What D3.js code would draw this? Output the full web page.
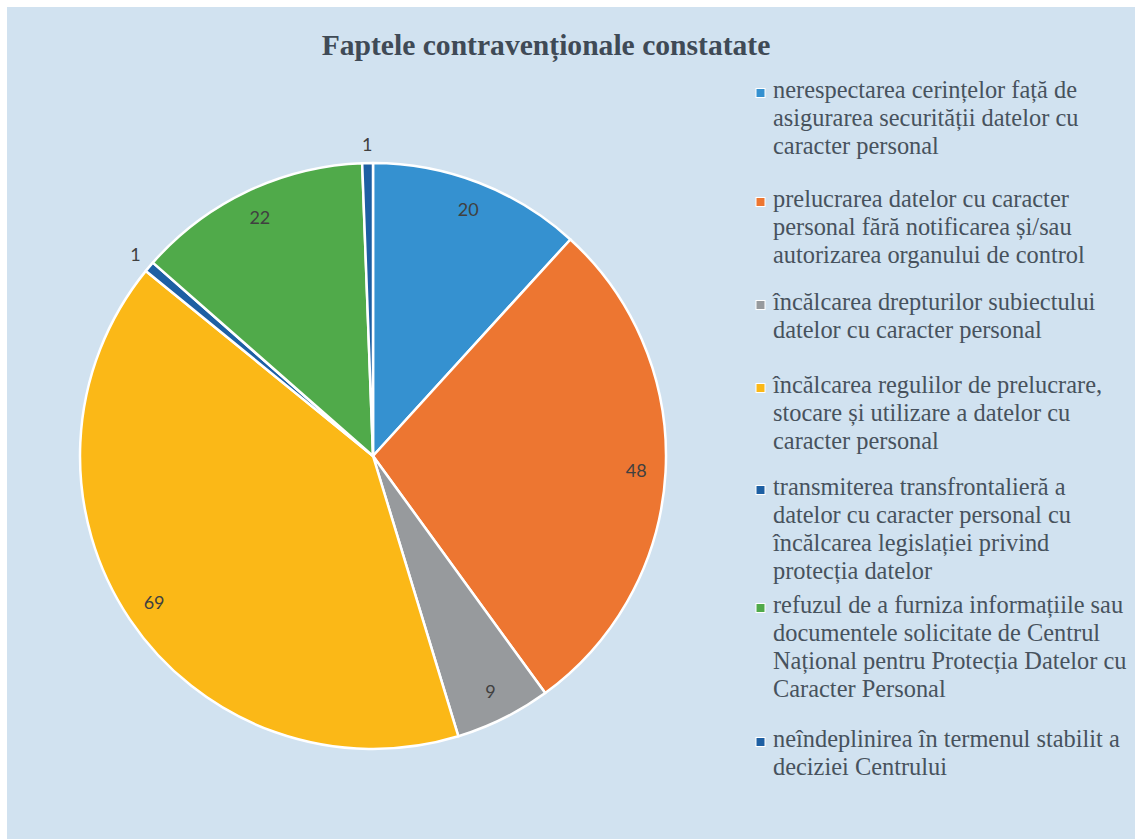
<!DOCTYPE html>
<html>
<head>
<meta charset="utf-8">
<script src="https://cdn.jsdelivr.net/npm/d3@7"></script>
<style>
  html, body { margin: 0; padding: 0; background: #ffffff; }
  svg { display: block; }
</style>
</head>
<body>
<svg id="chart" width="1135" height="839"></svg>
<script>
const title = "Faptele contravenționale constatate";
const categories = [
  "nerespectarea cerințelor față de|asigurarea securității datelor cu|caracter personal",
  "prelucrarea datelor cu caracter|personal fără notificarea și/sau|autorizarea organului de control",
  "încălcarea drepturilor subiectului|datelor cu caracter personal",
  "încălcarea regulilor de prelucrare,|stocare și utilizare a datelor cu|caracter personal",
  "transmiterea transfrontalieră a|datelor cu caracter personal cu|încălcarea legislației privind|protecția datelor",
  "refuzul de a furniza informațiile sau|documentele solicitate de Centrul|Național pentru Protecția Datelor cu|Caracter Personal",
  "neîndeplinirea în termenul stabilit a|deciziei Centrului"
];
const values = [20, 48, 9, 69, 1, 22, 1];
const colors = ["#3591d0", "#ed7631", "#979a9d", "#fbb817", "#1d5fa3", "#50aa4a", "#1d5fa3"];

// layout
const W = 1135, H = 839;
const cx = 373, cy = 456, R = 293;
const legendX = 773, legendMarkerX = 756;
const legendItemTops = [93, 202, 305, 388, 490, 608, 742];
const legendLineH = 28;

const svg = d3.select("#chart");
svg.append("rect").attr("x", 7).attr("y", 7).attr("width", W - 7).attr("height", H - 7)
  .attr("fill", "#d1e2f0");

svg.append("text").attr("x", 546).attr("y", 55).attr("text-anchor", "middle")
  .style("font-family", "'Liberation Serif', serif")
  .attr("font-weight", "bold").attr("font-size", 29.6).attr("fill", "#3f4a56")
  .text(title);

const pie = d3.pie().sort(null).value(d => d)(values);
const arc = d3.arc().innerRadius(0).outerRadius(R);
const g = svg.append("g").attr("transform", `translate(${cx},${cy})`);

g.selectAll("path.slice").data(pie).join("path")
  .attr("class", "slice")
  .attr("d", arc)
  .attr("fill", (d, i) => colors[i])
  .attr("stroke", "#ffffff").attr("stroke-width", 2.5).attr("stroke-linejoin", "round");

const total = d3.sum(values);
g.selectAll("text.lbl").data(pie).join("text")
  .attr("class", "lbl")
  .attr("transform", d => {
    const a = (d.startAngle + d.endAngle) / 2;
    const frac = d.value / total;
    const r = frac < 0.02 ? R + 18 : R * 0.9;
    return `translate(${Math.sin(a) * r},${-Math.cos(a) * r})`;
  })
  .attr("text-anchor", "middle").attr("dy", "0.35em")
  .style("font-family", "Lato, 'Open Sans', sans-serif").attr("font-size", 18)
  .attr("fill", "#404040")
  .text(d => d.value);

const leg = svg.append("g");
categories.forEach((c, i) => {
  const y0 = legendItemTops[i];
  leg.append("rect").attr("x", legendMarkerX).attr("y", y0 - 4.5)
    .attr("width", 9).attr("height", 9).attr("fill", colors[i])
    .attr("stroke", "#ffffff").attr("stroke-width", 1);
  const lines = c.split("|");
  lines.forEach((ln, j) => {
    leg.append("text").attr("x", legendX).attr("y", y0 + j * legendLineH + 5)
      .style("font-family", "'Liberation Serif', serif")
      .attr("font-size", 24.4).attr("fill", "#47525d")
      .text(ln);
  });
});
</script>
</body>
</html>
